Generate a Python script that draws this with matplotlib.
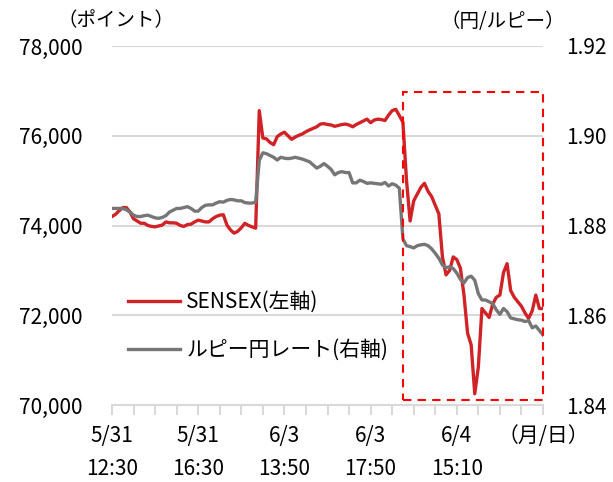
import numpy as np
import matplotlib
matplotlib.use('Agg')
import matplotlib.pyplot as plt
from matplotlib.patches import Rectangle

plt.rcParams['font.family'] = ['Noto Sans CJK JP', 'DejaVu Sans']

# SENSEX (left axis, points), 10-minute steps
sensex = [
    74200, 74250, 74330, 74400, 74400, 74300, 74150, 74100, 74050, 74050,
    74000, 73980, 73970, 73990, 74010, 74080, 74060, 74060, 74050, 74000,
    73980, 74020, 74030, 74080, 74120, 74100, 74080, 74080, 74150, 74200,
    74230, 74240, 74010, 73900, 73830, 73870, 73950, 74050, 74000, 73970,
    73940, 76560, 75950, 75930, 75850, 75800, 75980, 76040, 76080, 76000,
    75920, 75970, 76010, 76040, 76090, 76130, 76165, 76200, 76260, 76270,
    76250, 76240, 76210, 76230, 76250, 76260, 76240, 76200, 76250, 76290,
    76330, 76370, 76290, 76350, 76370, 76360, 76340, 76460, 76560, 76590,
    76450, 76300, 75000, 74100, 74550, 74700, 74850, 74940, 74760, 74645,
    74450, 74260, 73300, 72900, 73000, 73300, 73240, 73050, 72450, 71600,
    71340, 70250, 70850, 72150, 72050, 71950, 72250, 72400, 72450, 72950,
    73150, 72550, 72400, 72300, 72200, 72050, 71930, 72100, 72450, 72150,
    72150,
]

# Rupee/yen rate (right axis)
rupee_yen = [
    1.8838, 1.8838, 1.8838, 1.8838, 1.8835, 1.8830, 1.8823, 1.8820, 1.8820, 1.8822,
    1.8823, 1.8820, 1.8817, 1.8816, 1.8818, 1.8822, 1.8830, 1.8834, 1.8838, 1.8838,
    1.8840, 1.8842, 1.8838, 1.8832, 1.8832, 1.8840, 1.8845, 1.8846, 1.8846, 1.8850,
    1.8853, 1.8852, 1.8856, 1.8858, 1.8857, 1.8855, 1.8855, 1.8851, 1.8850, 1.8850,
    1.8852, 1.8945, 1.8962, 1.8960, 1.8956, 1.8952, 1.8946, 1.8952, 1.8950, 1.8949,
    1.8950, 1.8952, 1.8950, 1.8948, 1.8945, 1.8942, 1.8935, 1.8928, 1.8932, 1.8938,
    1.8932, 1.8925, 1.8913, 1.8918, 1.8920, 1.8918, 1.8918, 1.8895, 1.8895, 1.8901,
    1.8898, 1.8894, 1.8895, 1.8894, 1.8893, 1.8892, 1.8896, 1.8888, 1.8893, 1.8890,
    1.8883, 1.8770, 1.8755, 1.8753, 1.8750, 1.8755, 1.8757, 1.8758, 1.8755, 1.8748,
    1.8738, 1.8727, 1.8712, 1.8706, 1.8708, 1.8704, 1.8694, 1.8680, 1.8672, 1.8684,
    1.8687, 1.8678, 1.8648, 1.8634, 1.8634, 1.8630, 1.8626, 1.8612, 1.8602, 1.8615,
    1.8608, 1.8594, 1.8592, 1.8590, 1.8589, 1.8586, 1.8588, 1.8572, 1.8576, 1.8566,
    1.8556,
]

date_pos = [0, 24, 48, 72, 96]
date_labels = ['5/31', '5/31', '6/3', '6/3', '6/4']
time_labels = ['12:30', '16:30', '13:50', '17:50', '15:10']
left_ticks = [70000, 72000, 74000, 76000, 78000]
right_ticks = [1.84, 1.86, 1.88, 1.90, 1.92]

red = '#D02327'
gray = '#767676'
grid_c = '#D9D9D9'
fs = 15

fig = plt.figure(figsize=(6.13, 4.82), dpi=100)
ax = fig.add_axes([112 / 613, 1 - 405 / 482, 431 / 613, 359 / 482])
ax2 = ax.twinx()

x = np.arange(len(sensex))
ax.plot(x, sensex, color=red, lw=2.4, solid_joinstyle='round', label='SENSEX(左軸)')
ax2.plot(x, rupee_yen, color=gray, lw=2.4, solid_joinstyle='round', label='ルピー円レート(右軸)')

ax.set_xlim(0, 120)
ax.set_ylim(70000, 78000)
ax2.set_ylim(1.84, 1.92)
ax.set_yticks(left_ticks)
ax.set_yticklabels([f'{v:,}' for v in left_ticks])
ax2.set_yticks(right_ticks)
ax2.set_yticklabels([f'{v:.2f}' for v in right_ticks])
for v in left_ticks[1:]:
    ax.axhline(v, color=grid_c, lw=1.5, zorder=0)

for a in (ax, ax2):
    for s in a.spines.values():
        s.set_visible(False)
ax.spines['bottom'].set_visible(True)
ax.spines['bottom'].set_color(grid_c)
ax.spines['bottom'].set_linewidth(1.5)

ax.set_xticks(range(0, 121, 6))
ax.set_xticklabels([])
ax.tick_params(axis='x', length=7, width=1.5, color=grid_c, direction='out')
ax.tick_params(axis='y', length=0, pad=21, labelsize=fs)
ax2.tick_params(axis='y', length=0, pad=17, labelsize=fs)

# two-row date labels under the axis
for p, d, t in zip(date_pos, date_labels, time_labels):
    ax.text(p, -31 / 359, d, transform=ax.get_xaxis_transform(), ha='center', va='center', fontsize=fs)
    ax.text(p, -64 / 359, t, transform=ax.get_xaxis_transform(), ha='center', va='center', fontsize=fs)
ax.text(120, -31 / 359, '（月/日）', transform=ax.get_xaxis_transform(), ha='center', va='center', fontsize=fs)

fig.text(116 / 613, 1 - 21 / 482, '（ポイント）', ha='center', va='center', fontsize=14)
fig.text(503 / 613, 1 - 21 / 482, '（円/ルピー）', ha='center', va='center', fontsize=14)

# highlighted window on 6/4
rect = Rectangle((81, 70110), 39, 6866, transform=ax.transData, fill=False,
                 edgecolor='#FF0000', lw=1.5, ls=(0, (4, 3)), zorder=5, clip_on=False)
ax2.add_patch(rect)

h1, l1 = ax.get_legend_handles_labels()
h2, l2 = ax2.get_legend_handles_labels()
ax2.legend(h1 + h2, l1 + l2, loc='center left', bbox_to_anchor=(128 / 613, 1 - 326 / 482),
           bbox_transform=fig.transFigure, frameon=False, fontsize=fs, borderpad=0,
           borderaxespad=0, handlelength=2.5, handletextpad=0.3, labelspacing=1.25)

fig.savefig('out.png', dpi=100)
